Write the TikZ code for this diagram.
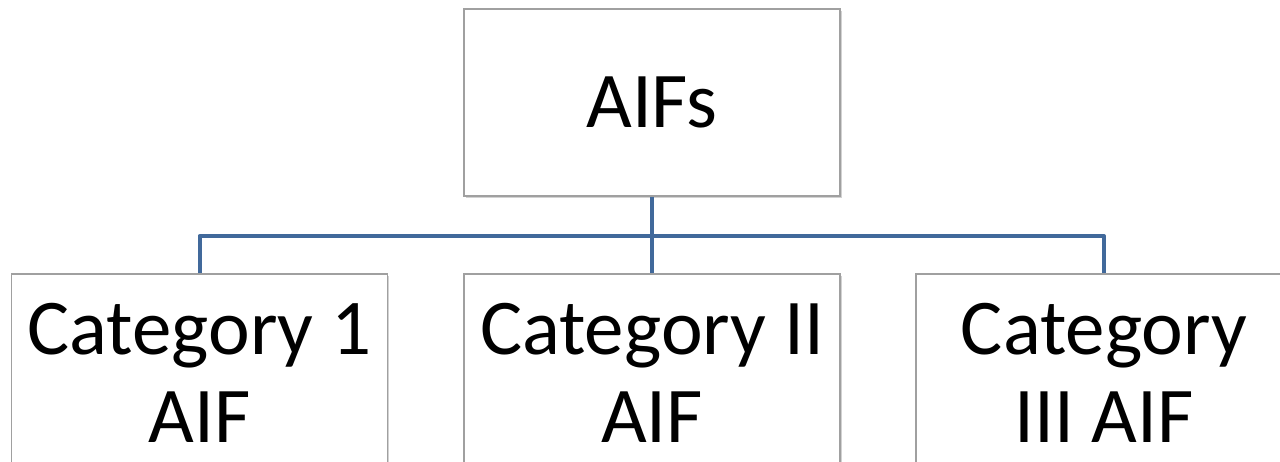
\documentclass[tikz,border=0pt]{standalone}
\usepackage{fontspec}
\setmainfont{Carlito}
\usetikzlibrary{shadows}
\definecolor{conncol}{RGB}{65,105,155}
\definecolor{boxline}{RGB}{160,160,160}
\tikzset{
  box/.style={draw=boxline, line width=1.5pt, fill=white, minimum width=376pt, minimum height=187pt,
    inner sep=0pt, align=center, font=\fontsize{79pt}{88pt}\selectfont,
    drop shadow={shadow xshift=1.5pt, shadow yshift=-1.5pt, opacity=0.35, fill=gray}},
  lowbox/.style={box, minimum height=197pt},
  conn/.style={draw=conncol, line width=4pt, line join=round}
}
\begin{document}
\begin{tikzpicture}[x=1pt,y=1pt]
\path[use as bounding box, clip] (0,0) rectangle (1280,-461);
\fill[white] (0,0) rectangle (1280,-461);
\node[box] (top) at (652,-102.5) {AIFs};
\node[lowbox] (c1) at (199.5,-372.5) {Category 1\\AIF};
\node[lowbox] (c2) at (652,-372.5) {Category II\\AIF};
\node[lowbox] (c3) at (1104,-372.5) {Category\\III AIF};
\coordinate (bus) at (652,-236);
\draw[conn] (top.south) -- (top.south |- c2.north);
\draw[conn] (c1.north) |- (bus) -| (c3.north);
\end{tikzpicture}
\end{document}
